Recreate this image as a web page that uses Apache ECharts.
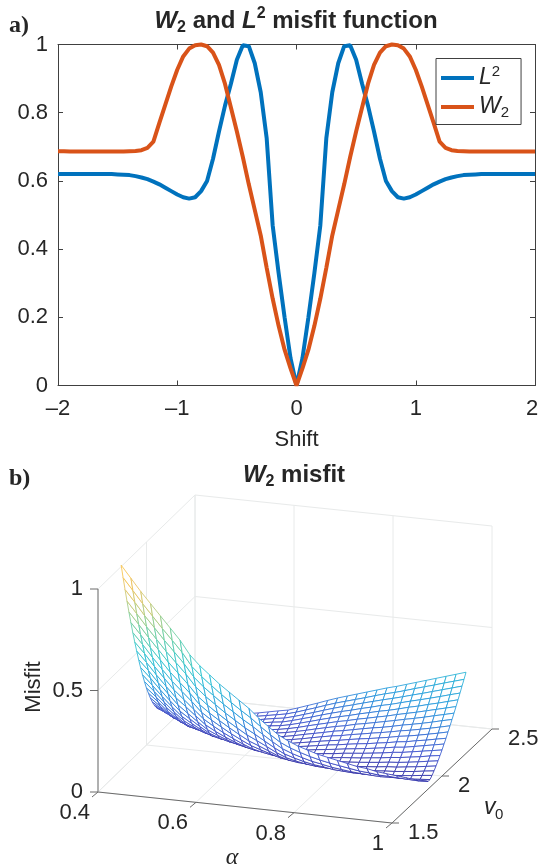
<!DOCTYPE html>
<html><head><meta charset="utf-8">
<style>html,body{margin:0;padding:0;background:#fff}#c{width:538px;height:868px}</style>
<script src="https://cdn.jsdelivr.net/npm/echarts@6/dist/echarts.min.js"></script>
</head><body><div id="c"></div>
<script>
const shift=[-2,-1.95,-1.9,-1.85,-1.8,-1.75,-1.7,-1.65,-1.6,-1.55,-1.5,-1.45,-1.4,-1.35,-1.3,-1.25,-1.2,-1.15,-1.1,-1.05,-1,-0.95,-0.9,-0.85,-0.8,-0.75,-0.7,-0.65,-0.6,-0.55,-0.5,-0.45,-0.4,-0.35,-0.3,-0.25,-0.2,-0.15,-0.1,-0.05,0,0.05,0.1,0.15,0.2,0.25,0.3,0.35,0.4,0.45,0.5,0.55,0.6,0.65,0.7,0.75,0.8,0.85,0.9,0.95,1,1.05,1.1,1.15,1.2,1.25,1.3,1.35,1.4,1.45,1.5,1.55,1.6,1.65,1.7,1.75,1.8,1.85,1.9,1.95,2];
const l2=[.62,.62,.62,.62,.62,.62,.62,.62,.62,.62,.619,.618,.617,.614,.61,.605,.598,.59,.58,.57,.56,.552,.548,.552,.57,.60,.665,.745,.82,.885,.955,.998,.995,.945,.86,.725,.47,.33,.2,.08,0,.08,.2,.33,.47,.725,.86,.945,.995,.998,.955,.885,.82,.745,.665,.60,.57,.552,.548,.552,.56,.57,.58,.59,.598,.605,.61,.614,.617,.618,.619,.62,.62,.62,.62,.62,.62,.62,.62,.62,.62];
const w2=[.687,.687,.686,.686,.686,.686,.686,.686,.686,.686,.686,.686,.687,.688,.69,.697,.715,.77,.824,.877,.926,.965,.988,.998,1,.995,.976,.94,.885,.815,.745,.67,.59,.515,.44,.345,.255,.175,.105,.05,0,.05,.105,.175,.255,.345,.44,.515,.59,.67,.745,.815,.885,.94,.976,.995,1,.998,.988,.965,.926,.877,.824,.77,.715,.697,.69,.688,.687,.686,.686,.686,.686,.686,.686,.686,.686,.686,.686,.686,.686];
const yTicksA=[0,0.2,0.4,0.6,0.8,1];
const alphaTicks=[0.4,0.6,0.8,1];
const v0Ticks=[1.5,2,2.5];
const misfitTicks=[0,0.5,1];
const alpha=[.38,.40,.42,.44,.46,.48,.50,.52,.54,.56,.58,.60,.62,.64,.66,.68,.70,.72,.74,.76,.78,.80,.82,.84,.86,.88,.90,.92,.94,.96,.98,1];
const v0=[1.84,1.86,1.88,1.90,1.92,1.94,1.96,1.98,2.00,2.02,2.04,2.06,2.08,2.10,2.12,2.14,2.16,2.18,2.20,2.22,2.24];
// misfit x 1000, one row per alpha, one column per v0
const misfit=[
[955,885,817,751,688,627,568,512,459,407,359,314,271,231,196,163,134,109,88,73,66],
[895,826,759,693,631,571,514,460,407,358,312,267,227,190,157,127,102,81,66,58,60],
[835,766,698,634,572,512,456,402,351,303,259,217,180,146,115,90,70,55,50,51,55],
[780,710,643,578,517,457,401,349,299,254,210,171,137,107,81,61,48,45,47,49,52],
[725,654,587,522,461,402,348,296,248,204,164,129,98,72,52,41,41,44,47,51,56],
[670,601,535,472,412,355,303,254,209,167,131,99,73,53,41,41,43,46,50,55,60],
[615,547,482,421,362,309,258,211,169,131,99,72,51,39,39,42,45,49,53,58,64],
[548,482,421,363,308,257,210,168,130,97,70,49,37,38,41,45,49,54,59,64,70],
[500,437,377,321,269,221,177,138,103,75,52,37,35,38,42,47,52,58,64,70,76],
[460,398,340,286,235,189,148,111,80,56,38,33,37,42,47,53,59,65,71,77,84],
[420,360,303,250,202,159,120,87,60,40,30,33,38,43,49,56,62,70,77,85,93],
[385,325,270,219,172,131,95,65,42,29,30,35,41,47,54,61,69,77,85,94,103],
[350,291,237,187,143,104,72,46,30,27,32,38,45,52,59,67,76,85,94,103,113],
[315,259,208,161,120,85,56,34,24,28,34,40,48,55,64,73,82,91,101,112,122],
[272,221,174,132,96,65,41,25,24,29,36,44,53,62,72,82,92,103,114,126,138],
[235,186,143,104,71,45,26,21,26,34,42,51,61,71,82,93,105,117,129,142,155],
[200,154,114,79,51,30,20,25,32,41,50,60,70,82,93,106,118,131,144,158,172],
[175,132,95,64,39,23,22,29,37,47,57,68,80,92,105,118,132,146,160,175,190],
[155,115,80,51,30,20,26,34,43,54,65,77,90,102,116,130,145,160,175,191,207],
[140,100,67,41,24,22,30,39,49,60,73,85,99,113,127,142,157,173,189,205,222],
[125,88,58,35,21,24,32,43,54,66,79,92,106,121,136,152,168,185,202,219,237],
[115,78,48,27,21,28,38,49,61,73,87,101,116,131,148,164,181,198,216,233,252],
[105,70,42,24,22,31,41,53,66,79,94,109,124,141,157,174,192,210,229,248,267],
[95,62,36,21,25,34,45,57,71,85,100,116,133,150,167,185,204,223,242,262,282],
[85,54,32,21,28,38,50,63,77,92,108,124,141,158,177,195,214,234,254,274,295],
[80,50,29,23,32,42,55,68,83,99,115,132,150,168,187,207,226,247,267,288,310],
[70,44,27,27,36,48,61,75,91,107,124,142,160,179,198,218,239,260,281,303,325],
[65,43,29,29,39,51,65,80,96,112,130,149,168,188,208,229,250,272,294,317,340],
[60,40,29,33,44,57,71,87,104,121,140,158,178,198,219,241,263,285,308,331,355],
[55,38,30,38,49,63,78,94,112,130,148,168,188,209,231,253,275,298,322,346,370],
[50,36,34,44,56,70,86,103,120,139,158,178,199,221,242,265,288,312,336,360,385],
[50,38,38,49,62,77,93,110,128,148,167,189,210,232,254,277,301,325,350,374,400]];

const INK='#262626', FONT='"Liberation Sans",Arial,sans-serif', FS=22;
const AMIN=.4,AMAX=1,VMIN=1.5,VMAX=2.5;
// oblique view of the 3-D box, in page pixels
function proj(a,v,z){
  const ta=(a-AMIN)/(AMAX-AMIN), tv=v-VMIN;
  return [98+294*ta+(97+3*ta)*tv, 792+31*ta-94*tv-203*z];
}
const stops=[[0,[45,35,150]],[.1,[60,80,205]],[.25,[35,150,220]],[.45,[40,195,210]],[.6,[100,205,160]],[.75,[200,200,112]],[.87,[248,187,80]],[1,[249,240,32]]];
function parula(z){
  z=Math.max(0,Math.min(1,z));
  for(let i=1;i<stops.length;i++){ if(z<=stops[i][0]){
    const s=stops[i-1],e=stops[i],t=(z-s[0])/(e[0]-s[0]);
    return 'rgb('+s[1].map((c,k)=>Math.round(c+(e[1][k]-c)*t)).join(',')+')';
  }}
  return 'rgb(249,240,32)';
}
// surface cells: far cells (high v0, low alpha) first, near ones drawn over them
const cells=[];
for(let j=v0.length-2;j>=0;j--) for(let i=0;i<alpha.length-1;i++) cells.push([i,j]);
function renderCell(p,api){
  const [i,j]=cells[p.dataIndex];
  const c=[[i,j],[i+1,j],[i+1,j+1],[i,j+1]];
  const pts=c.map(q=>api.coord(proj(alpha[q[0]],v0[q[1]],misfit[q[0]][q[1]]/1000)));
  const m=c.reduce((s,q)=>s+misfit[q[0]][q[1]],0)/4000;
  return {type:'polygon',shape:{points:pts},style:{fill:'#fff',stroke:parula(m),lineWidth:.85}};
}
// box grid lines
const GRID='#e8eaea', gridSegs=[];
function seg(a1,v1,z1,a2,v2,z2){gridSegs.push([a1,v1,z1,a2,v2,z2]);}
alphaTicks.forEach(a=>{seg(a,VMIN,0,a,VMAX,0);seg(a,VMAX,0,a,VMAX,1);});
v0Ticks.forEach(v=>{seg(AMIN,v,0,AMAX,v,0);seg(AMIN,v,0,AMIN,v,1);});
misfitTicks.forEach(z=>{seg(AMIN,VMIN,z,AMIN,VMAX,z);seg(AMIN,VMAX,z,AMAX,VMAX,z);});
function renderSeg(p,api){
  const s=gridSegs[p.dataIndex],a=api.coord(proj(s[0],s[1],s[2])),b=api.coord(proj(s[3],s[4],s[5]));
  return {type:'line',shape:{x1:a[0],y1:a[1],x2:b[0],y2:b[1]},style:{stroke:GRID,lineWidth:1}};
}
// axes of the box with ticks and labels
const axisSegs=[
 [proj(AMIN,VMIN,0),proj(AMAX,VMIN,0),'#6b6b6b'],
 [proj(AMAX,VMIN,0),proj(AMAX,VMAX,0),'#6b6b6b'],
 [proj(AMIN,VMIN,0),proj(AMIN,VMIN,1),'#9a9a9a']];
const axisLabels=[];
alphaTicks.forEach(a=>{const p=proj(a,VMIN,0);
  axisSegs.push([p,[p[0]-6,p[1]+5],'#6b6b6b']);
  axisLabels.push([p[0]-8,p[1]+21,String(a),'right']);});
v0Ticks.forEach(v=>{const p=proj(AMAX,v,0);
  axisSegs.push([p,[p[0]+7,p[1]],'#6b6b6b']);
  axisLabels.push([p[0]+16,p[1]+10,String(v),'left']);});
misfitTicks.forEach(z=>{const p=proj(AMIN,VMIN,z);
  axisSegs.push([p,[p[0]-8,p[1]],'#6b6b6b']);
  axisLabels.push([p[0]-15,p[1],String(z),'right']);});
function renderAxis(p,api){
  const s=axisSegs[p.dataIndex],a=api.coord(s[0]),b=api.coord(s[1]);
  return {type:'line',shape:{x1:a[0],y1:a[1],x2:b[0],y2:b[1]},style:{stroke:s[2],lineWidth:p.dataIndex===2?1.5:1}};
}
function renderLabel(p,api){
  const s=axisLabels[p.dataIndex],a=api.coord([s[0],s[1]]);
  return {type:'text',x:a[0],y:a[1],style:{text:s[2],fill:INK,font:FS+'px '+FONT,textAlign:s[3],textVerticalAlign:'middle'}};
}
const titleRich={
  i:{fontFamily:FONT,fontWeight:'bold',fontStyle:'italic',fontSize:24,color:INK,lineHeight:30,verticalAlign:'middle'},
  n:{fontFamily:FONT,fontWeight:'bold',fontSize:24,color:INK,lineHeight:30,verticalAlign:'middle'},
  s:{fontFamily:FONT,fontWeight:'bold',fontSize:16,color:INK,lineHeight:12,verticalAlign:'bottom'},
  u:{fontFamily:FONT,fontWeight:'bold',fontSize:16,color:INK,lineHeight:12,verticalAlign:'top'}
};
const axisLine={onZero:false,lineStyle:{color:'#404040',width:1}};
const tick={inside:true,length:5,lineStyle:{color:'#404040',width:1}};
const serifTitle={fontFamily:'"Liberation Serif",serif',fontWeight:'bold',fontSize:24,color:INK};
const chart=echarts.init(document.getElementById('c'),null,{renderer:'canvas'});
chart.setOption({
 animation:false,backgroundColor:'#fff',
 title:[
  {text:'{i|W}{s|2}{n| and }{i|L}{u|2}{n| misfit function}',left:296,top:6,padding:0,textAlign:'center',textStyle:{rich:titleRich}},
  {text:'{i|W}{s|2}{n| misfit}',left:294,top:460,padding:0,textAlign:'center',textStyle:{rich:titleRich}},
  {text:'a)',left:9,top:14,padding:0,textStyle:serifTitle},
  {text:'b)',left:9,top:467,padding:0,textStyle:serifTitle}
 ],
 grid:[
  {left:58,top:44.5,width:477,height:341,show:false,outerBoundsMode:'none'},
  {left:0,top:0,width:538,height:868,show:false,outerBoundsMode:'none'}
 ],
 legend:{show:true,left:436,top:58.5,orient:'vertical',data:['L2','W2'],
  itemWidth:33,itemHeight:4,itemGap:6,padding:[6,12,4,5],borderColor:'#404040',borderWidth:1,backgroundColor:'#fff',
  icon:'rect',
  formatter:n=>n==='L2'?'{i|L}{u|2}':'{i|W}{s|2}',
  textStyle:{rich:{
   i:{fontFamily:FONT,fontStyle:'italic',fontSize:23,color:INK,lineHeight:27,verticalAlign:'middle'},
   s:{fontFamily:FONT,fontSize:15,color:INK,lineHeight:10,verticalAlign:'bottom'},
   u:{fontFamily:FONT,fontSize:15,color:INK,lineHeight:10,verticalAlign:'top'}}}},
 xAxis:[
  {gridIndex:0,type:'value',min:-2,max:2,interval:1,name:'Shift',nameLocation:'middle',nameGap:43,
   nameTextStyle:{fontFamily:FONT,fontSize:FS,color:INK},
   axisLine,axisTick:tick,splitLine:{show:false},
   axisLabel:{fontFamily:FONT,fontSize:FS,color:INK,margin:12,hideOverlap:false,showMinLabel:true,showMaxLabel:true,
    formatter:v=>v===2?'{r|2}':String(v).replace('-','\u2013'),
    rich:{r:{fontFamily:FONT,fontSize:FS,color:INK,padding:[0,6,0,0]}}}},
  {gridIndex:0,type:'value',position:'top',min:-2,max:2,interval:1,axisLine,axisTick:tick,axisLabel:{show:false},splitLine:{show:false}},
  {gridIndex:1,type:'value',min:0,max:538,show:false}
 ],
 yAxis:[
  {gridIndex:0,type:'value',min:0,max:1,interval:.2,axisLine,axisTick:tick,splitLine:{show:false},
   axisLabel:{fontFamily:FONT,fontSize:FS,color:INK,margin:10,showMinLabel:true,showMaxLabel:true,
    formatter:v=>yTicksA.includes(+v.toFixed(1))?String(+v.toFixed(1)):''}},
  {gridIndex:0,type:'value',position:'right',min:0,max:1,interval:.2,axisLine,axisTick:tick,axisLabel:{show:false},splitLine:{show:false}},
  {gridIndex:1,type:'value',min:0,max:868,inverse:true,show:false}
 ],
 series:[
  {name:'L2',type:'line',xAxisIndex:0,yAxisIndex:0,data:shift.map((x,i)=>[x,l2[i]]),showSymbol:false,clip:false,lineStyle:{color:'#0072BD',width:4},itemStyle:{color:'#0072BD'}},
  {name:'W2',type:'line',xAxisIndex:0,yAxisIndex:0,data:shift.map((x,i)=>[x,w2[i]]),showSymbol:false,clip:false,lineStyle:{color:'#D95319',width:4},itemStyle:{color:'#D95319'}},
  {type:'custom',xAxisIndex:2,yAxisIndex:2,data:gridSegs.map((s,i)=>[i]),renderItem:renderSeg,silent:true,clip:false},
  {type:'custom',xAxisIndex:2,yAxisIndex:2,data:axisSegs.map((s,i)=>[i]),renderItem:renderAxis,silent:true,clip:false},
  {type:'custom',xAxisIndex:2,yAxisIndex:2,data:cells.map((s,i)=>[i]),renderItem:renderCell,silent:true,clip:false},
  {type:'custom',xAxisIndex:2,yAxisIndex:2,data:axisLabels.map((s,i)=>[i]),renderItem:renderLabel,silent:true,clip:false}
 ],
 graphic:[
  {type:'text',x:34,y:687,rotation:Math.PI/2,style:{text:'Misfit',fill:INK,font:FS+'px '+FONT,textAlign:'center',textVerticalAlign:'middle'}},
  {type:'text',x:232,y:858,style:{text:'\u03b1',fill:INK,font:'italic 24px "Liberation Serif",serif',textAlign:'center',textVerticalAlign:'middle'}},
  {type:'text',x:484,y:808,style:{text:'v',fill:INK,font:'italic 23px '+FONT,textAlign:'left',textVerticalAlign:'middle'}},
  {type:'text',x:495,y:815,style:{text:'0',fill:INK,font:'15px '+FONT,textAlign:'left',textVerticalAlign:'middle'}}
 ]
});
</script></body></html>
